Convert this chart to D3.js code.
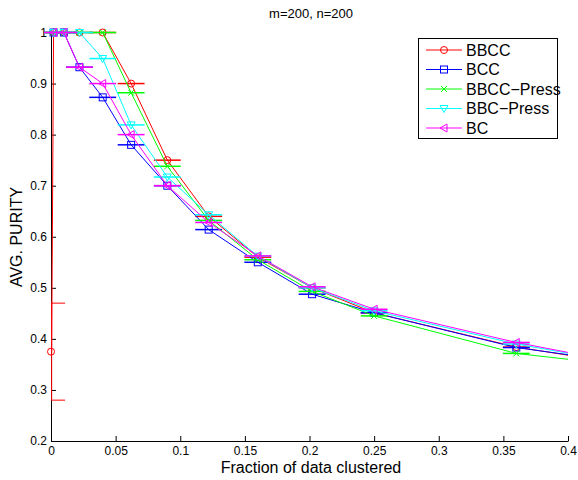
<!DOCTYPE html>
<html>
<head>
<meta charset="utf-8">
<script src="https://cdn.jsdelivr.net/npm/d3@7"></script>
<style>
  body { margin: 0; background: #fff; }
  text { font-family: "Liberation Sans", Arial, sans-serif; }
</style>
</head>
<body>
<svg id="chart" width="578" height="480"></svg>
<script>
// data
var xs = [0.002, 0.01, 0.022, 0.04, 0.062, 0.09, 0.122, 0.16, 0.202, 0.25, 0.36, 0.4];
var bbcc      = [1, 1, 1, 1, 0.9, 0.75, 0.64, 0.56, 0.50, 0.451, 0.384, 0.368];
var bcc       = [1, 1, 0.932, 0.873, 0.78, 0.70, 0.614, 0.55, 0.4875, 0.451, 0.383, 0.369];
var bbccPress = [1, 1, 1, 1, 0.882, 0.738, 0.632, 0.555, 0.493, 0.445, 0.3715, 0.36];
var bbcPress  = [1, 1, 1, 0.949, 0.819, 0.717, 0.643, 0.562, 0.50, 0.455, 0.39, 0.372];
var bc        = [1, 1, 0.932, 0.9, 0.8, 0.70, 0.628, 0.5625, 0.502, 0.458, 0.393, 0.3735];
// extra first point of BBCC with its vertical error bar
var bbccFirst = {x: 0.0005, y: 0.375, lo: 0.28, hi: 0.47};
var capHalf = 0.0104;

var names = ["BBCC", "BCC", "BBCC\u2212Press", "BBC\u2212Press", "BC"];
var colors = ["#ff0000", "#0000ff", "#00ff00", "#00ffff", "#ff00ff"];
var markers = ["circle", "square", "cross", "down", "left"];
var values = [bbcc, bcc, bbccPress, bbcPress, bc];

var xTicks = [0, 0.05, 0.1, 0.15, 0.2, 0.25, 0.3, 0.35, 0.4];
var yTicks = [0.2, 0.3, 0.4, 0.5, 0.6, 0.7, 0.8, 0.9, 1];

var svg = d3.select("#chart");
var x = d3.scaleLinear().domain([0, 0.4]).range([51, 568]);
var y = d3.scaleLinear().domain([0.2, 1]).range([441, 32.5]);

svg.append("defs").append("clipPath").attr("id", "clip")
  .append("rect").attr("x", 44).attr("y", 20).attr("width", 524).attr("height", 421);

function marker(g, type, cx, cy, col) {
  var s = 3.5;
  if (type == "circle")
    g.append("circle").attr("cx", cx).attr("cy", cy).attr("r", s)
      .attr("fill", "none").attr("stroke", col);
  else if (type == "square")
    g.append("rect").attr("x", cx - s).attr("y", cy - s).attr("width", 2 * s).attr("height", 2 * s)
      .attr("fill", "none").attr("stroke", col);
  else if (type == "cross")
    g.append("path").attr("d", "M" + (cx - 3) + "," + (cy - 3) + "L" + (cx + 3) + "," + (cy + 3) +
      "M" + (cx - 3) + "," + (cy + 3) + "L" + (cx + 3) + "," + (cy - 3))
      .attr("stroke", col).attr("fill", "none");
  else if (type == "down")
    g.append("path").attr("d", "M" + (cx - 4) + "," + (cy - 3) + "L" + (cx + 4) + "," + (cy - 3) +
      "L" + cx + "," + (cy + 4) + "Z").attr("stroke", col).attr("fill", "none");
  else if (type == "left")
    g.append("path").attr("d", "M" + (cx + 3) + "," + (cy - 4) + "L" + (cx + 3) + "," + (cy + 4) +
      "L" + (cx - 4) + "," + cy + "Z").attr("stroke", col).attr("fill", "none");
}

// axes (ticks inward, like matlab)
var xAxis = svg.append("g").attr("transform", "translate(0,441)")
  .call(d3.axisBottom(x).tickValues(xTicks).tickSizeInner(-5).tickSizeOuter(0)
    .tickFormat(function(d) { return d3.format("~g")(d); }));
xAxis.selectAll("text").attr("y", 5).attr("font-size", 12).attr("fill", "#000");
var yAxis = svg.append("g").attr("transform", "translate(51,0)")
  .call(d3.axisLeft(y).tickValues(yTicks).tickSizeInner(-5).tickSizeOuter(0)
    .tickFormat(function(d) { return d3.format("~g")(d); }));
yAxis.selectAll("text").attr("x", -4).attr("font-size", 12).attr("fill", "#000");
svg.selectAll(".domain, .tick line").attr("stroke", "#000");

var plot = svg.append("g").attr("clip-path", "url(#clip)");
var line = d3.line().x(function(d) { return x(d[0]); }).y(function(d) { return y(d[1]); });

values.forEach(function(vals, k) {
  var pts = vals.map(function(v, i) { return [xs[i], v]; });
  if (k == 0) pts.unshift([bbccFirst.x, bbccFirst.y]);
  var g = plot.append("g");
  g.append("path").datum(pts).attr("d", line)
    .attr("fill", "none").attr("stroke", colors[k]).attr("stroke-width", 1);
  if (k == 0) {
    // vertical error bar on the first point
    g.append("line").attr("x1", x(bbccFirst.x)).attr("x2", x(bbccFirst.x))
      .attr("y1", y(bbccFirst.lo)).attr("y2", y(bbccFirst.hi)).attr("stroke", colors[k]);
    [bbccFirst.lo, bbccFirst.hi].forEach(function(v) {
      g.append("line").attr("x1", x(0)).attr("x2", x(bbccFirst.x + capHalf))
        .attr("y1", y(v)).attr("y2", y(v)).attr("stroke", colors[k]);
    });
    marker(g, "circle", x(0), y(bbccFirst.y), colors[k]);
  }
  vals.forEach(function(v, i) {
    if (xs[i] >= 0.4) return;
    g.append("line").attr("x1", x(xs[i] - capHalf)).attr("x2", x(xs[i] + capHalf))
      .attr("y1", y(v)).attr("y2", y(v)).attr("stroke", colors[k]).attr("stroke-width", 1.5);
    marker(g, markers[k], x(xs[i]), y(v), colors[k]);
  });
});

svg.append("text").attr("x", 311).attr("y", 18).attr("text-anchor", "middle")
  .attr("font-size", 13).text("m=200, n=200");
svg.append("text").attr("x", 311).attr("y", 473).attr("text-anchor", "middle")
  .attr("font-size", 16).text("Fraction of data clustered");
svg.append("text").attr("transform", "translate(22,237) rotate(-90)").attr("text-anchor", "middle")
  .attr("font-size", 16).text("AVG. PURITY");

// legend
var leg = svg.append("g");
leg.append("rect").attr("x", 418.5).attr("y", 38.5).attr("width", 139).attr("height", 100)
  .attr("fill", "#fff").attr("stroke", "#000");
names.forEach(function(n, k) {
  var ly = 50 + k * 19.5;
  leg.append("line").attr("x1", 426).attr("x2", 462).attr("y1", ly).attr("y2", ly)
    .attr("stroke", colors[k]);
  marker(leg, markers[k], 444, ly, colors[k]);
  leg.append("text").attr("x", 466).attr("y", ly + 5.5).attr("font-size", 16).text(n);
});
</script>
</body>
</html>
